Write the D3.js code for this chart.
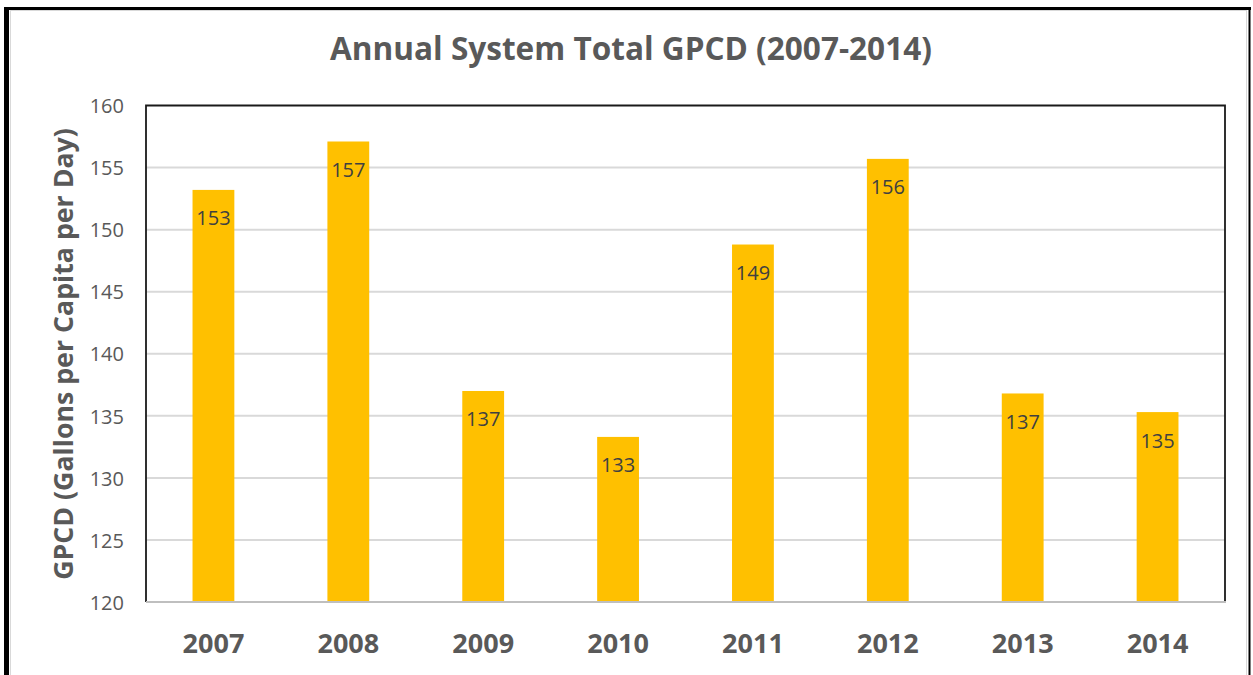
<!DOCTYPE html>
<html>
<head>
<meta charset="utf-8">
<script src="https://cdn.jsdelivr.net/npm/d3@7"></script>
<style>
  html, body { margin: 0; padding: 0; background: #fff; }
  svg { display: block; }
  text { font-family: "Open Sans", "Noto Sans", sans-serif; }
</style>
</head>
<body>
<svg id="chart" width="1253" height="675"></svg>
<script>
// Annual system-wide gallons per capita per day
const years = ["2007", "2008", "2009", "2010", "2011", "2012", "2013", "2014"];
const gpcd = [153.2, 157.1, 137.0, 133.3, 148.8, 155.7, 136.8, 135.3];
const yTicks = [120, 125, 130, 135, 140, 145, 150, 155, 160];
const titleText = "Annual System Total GPCD (2007-2014)";
const yTitleText = "GPCD (Gallons per Capita per Day)";

const W = 1253, H = 675;
const plot = { left: 146, right: 1225, top: 105.5, bottom: 602 };

const svg = d3.select("#chart");

// frame around the whole figure
svg.append("rect")
  .attr("x", 10.5).attr("y", 10.5)
  .attr("width", 1236).attr("height", H)
  .attr("fill", "none").attr("stroke", "#d9d9d9").attr("stroke-width", 1);
svg.append("line").attr("x1", 6.5).attr("x2", 6.5).attr("y1", 7).attr("y2", H)
  .attr("stroke", "#000").attr("stroke-width", 5);
svg.append("line").attr("x1", 4).attr("x2", 1251).attr("y1", 8.5).attr("y2", 8.5)
  .attr("stroke", "#000").attr("stroke-width", 3);
svg.append("line").attr("x1", 1249.5).attr("x2", 1249.5).attr("y1", 7).attr("y2", H)
  .attr("stroke", "#000").attr("stroke-width", 2);

const x = d3.scaleBand()
  .domain(years)
  .range([plot.left, plot.right])
  .paddingInner(0.69)
  .paddingOuter(0.345);

const y = d3.scaleLinear()
  .domain([120, 160])
  .range([plot.bottom, plot.top]);

// horizontal gridlines
svg.append("g")
  .selectAll("line")
  .data(yTicks.filter(t => t > 120 && t < 160))
  .join("line")
  .attr("x1", plot.left).attr("x2", plot.right)
  .attr("y1", d => y(d)).attr("y2", d => y(d))
  .attr("stroke", "#d9d9d9").attr("stroke-width", 2);

// bars
svg.append("g")
  .selectAll("rect")
  .data(years.map((yr, i) => ({ yr, v: gpcd[i] })))
  .join("rect")
  .attr("x", d => x(d.yr))
  .attr("y", d => y(d.v))
  .attr("width", x.bandwidth())
  .attr("height", d => y(120) - y(d.v))
  .attr("fill", "#ffc000");

// value labels inside the top of each bar
svg.append("g")
  .selectAll("text")
  .data(years.map((yr, i) => ({ yr, v: gpcd[i] })))
  .join("text")
  .attr("x", d => x(d.yr) + x.bandwidth() / 2)
  .attr("y", d => y(d.v) + 35.5)
  .attr("text-anchor", "middle")
  .attr("font-size", 20)
  .attr("fill", "#404040")
  .text(d => d3.format(".0f")(d.v));

// plot frame: dark on left/top/right, grey baseline
svg.append("path")
  .attr("d", `M${plot.left},${plot.bottom} V${plot.top} H${plot.right} V${plot.bottom}`)
  .attr("fill", "none").attr("stroke", "#1a1a1a").attr("stroke-width", 1.8);
svg.append("line")
  .attr("x1", plot.left).attr("x2", plot.right + 1)
  .attr("y1", plot.bottom).attr("y2", plot.bottom)
  .attr("stroke", "#bfbfbf").attr("stroke-width", 2);

// y axis labels
const yAxis = svg.append("g")
  .attr("transform", `translate(${plot.left},0)`)
  .call(d3.axisLeft(y).tickValues(yTicks).tickSize(0).tickPadding(22).tickFormat(d3.format("d")));
yAxis.select(".domain").remove();
yAxis.selectAll("text")
  .attr("font-family", "'Open Sans', 'Noto Sans', sans-serif")
  .attr("font-size", 20)
  .attr("fill", "#595959")
  .attr("dy", "0.36em");

// x axis labels
const xAxis = svg.append("g")
  .attr("transform", `translate(0,${plot.bottom})`)
  .call(d3.axisBottom(x).tickSize(0).tickPadding(0));
xAxis.select(".domain").remove();
xAxis.selectAll("text")
  .attr("font-family", "'Open Sans', 'Noto Sans', sans-serif")
  .attr("font-size", 27)
  .attr("font-weight", "bold")
  .attr("fill", "#595959")
  .attr("y", 51)
  .attr("dy", null);

// fit a text element to a target width by scaling its font size
function fitWidth(sel, target) {
  const w = sel.node().getComputedTextLength();
  const fs = parseFloat(sel.attr("font-size"));
  sel.attr("font-size", fs * target / w);
}

// chart title
const title = svg.append("text")
  .attr("x", 631).attr("y", 60)
  .attr("text-anchor", "middle")
  .attr("font-size", 30)
  .attr("font-weight", "bold")
  .attr("fill", "#595959")
  .text(titleText);
fitWidth(title, 602);

// y axis title
const yTitle = svg.append("text")
  .attr("transform", "translate(73,354) rotate(-90)")
  .attr("text-anchor", "middle")
  .attr("font-size", 26)
  .attr("font-weight", "bold")
  .attr("fill", "#595959")
  .text(yTitleText);
fitWidth(yTitle, 452);
</script>
</body>
</html>
